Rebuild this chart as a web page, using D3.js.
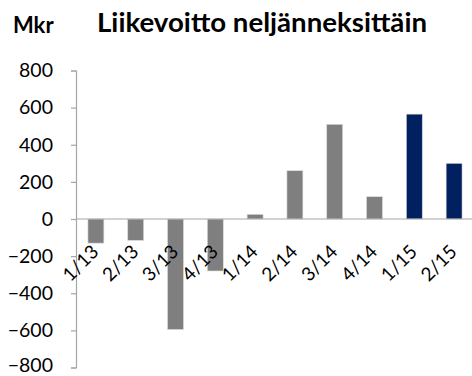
<!DOCTYPE html>
<html>
<head>
<meta charset="utf-8">
<script src="https://cdn.jsdelivr.net/npm/d3@7"></script>
<style>
  html, body { margin: 0; padding: 0; background: #fff; }
  svg { display: block; }
  text { font-family: Lato, "Open Sans", sans-serif; fill: #000; }
</style>
</head>
<body>
<svg id="chart" width="472" height="376"></svg>
<script>
// Quarterly operating profit, MSEK
const quarters = ["1/13", "2/13", "3/13", "4/13", "1/14", "2/14", "3/14", "4/14", "1/15", "2/15"];
const profit = [-130, -115, -595, -280, 25, 260, 510, 120, 565, 300];
const highlighted = ["1/15", "2/15"];
const yTicks = [800, 600, 400, 200, 0, -200, -400, -600, -800];

const svg = d3.select("#chart");
const W = 472;

const x = d3.scaleBand()
  .domain(quarters)
  .range([76, 474])
  .paddingInner(0.6)
  .paddingOuter(0.3);

const y = d3.scaleLinear()
  .domain([-800, 800])
  .range([367.5, 70.5]);

// Title and unit
svg.append("text")
  .attr("x", 13).attr("y", 33)
  .attr("font-size", 22).attr("font-weight", "bold")
  .text("Mkr");
svg.append("text")
  .attr("x", 97).attr("y", 32)
  .attr("font-size", 26).attr("font-weight", "bold")
  .attr("textLength", 330).attr("lengthAdjust", "spacingAndGlyphs")
  .text("Liikevoitto neljänneksittäin");

// Y axis
const yAxis = d3.axisLeft(y).tickValues(yTicks).tickSize(5).tickPadding(18);
const gy = svg.append("g").attr("transform", "translate(76,0)").call(yAxis);
gy.select(".domain").attr("stroke", "#a6a6a6").attr("stroke-width", 1.2);
gy.selectAll(".tick line").attr("stroke", "#a6a6a6").attr("stroke-width", 1.2);
gy.selectAll(".tick text")
  .attr("font-size", 19.5)
  .attr("font-family", "Lato, 'Open Sans', sans-serif")
  .attr("fill", "#000")
  // keep the lowest label inside the canvas
  .attr("dy", d => d === -800 ? "0.18em" : "0.32em");

// Bars
svg.append("g").selectAll("rect")
  .data(quarters.map((q, i) => ({ q, v: profit[i] })))
  .join("rect")
  .attr("x", d => x(d.q))
  .attr("width", x.bandwidth())
  .attr("y", d => y(Math.max(0, d.v)))
  .attr("height", d => Math.abs(y(d.v) - y(0)))
  .attr("fill", d => highlighted.includes(d.q) ? "#002060" : "#7f7f7f")
  .attr("stroke", "#d9d9d9")
  .attr("stroke-width", 0.6);

// Zero line
svg.append("line")
  .attr("x1", 76).attr("x2", W)
  .attr("y1", y(0)).attr("y2", y(0))
  .attr("stroke", "#a6a6a6").attr("stroke-width", 1.2);

// Category labels, rotated
svg.append("g").selectAll("text")
  .data(quarters)
  .join("text")
  .attr("font-size", 19)
  .attr("text-anchor", "end")
  .attr("transform", q => `translate(${x(q) + x.bandwidth() / 2 + 4},${y(0) + 34}) rotate(-45)`)
  .text(q => q);
</script>
</body>
</html>
